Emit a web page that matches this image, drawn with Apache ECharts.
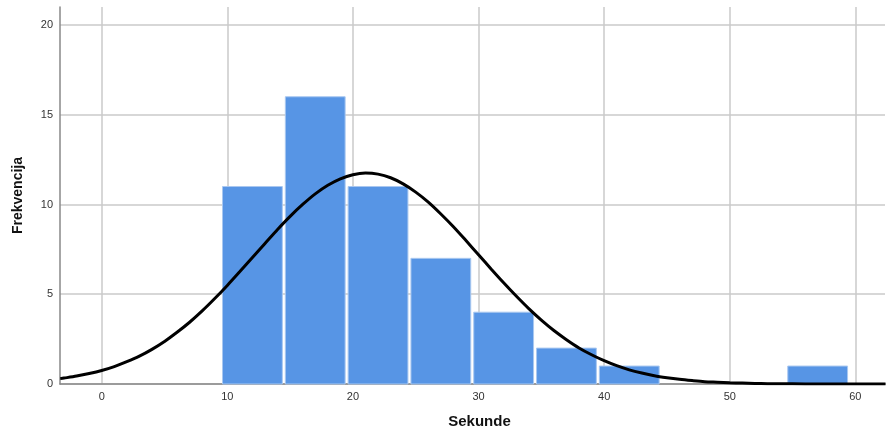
<!DOCTYPE html>
<html>
<head>
<meta charset="utf-8">
<script src="https://cdn.jsdelivr.net/npm/echarts@6/dist/echarts.min.js"></script>
<style>
html,body{margin:0;padding:0;background:#fff;}
#chart{width:886px;height:427px;}
</style>
</head>
<body>
<div id="chart"></div>
<script>
// Histogram bins (Sekunde) and frequencies
const binStart = [9.5, 14.5, 19.5, 24.5, 29.5, 34.5, 39.5, 54.5];
const binEnd   = [14.5, 19.5, 24.5, 29.5, 34.5, 39.5, 44.5, 59.5];
const counts   = [11, 16, 11, 7, 4, 2, 1, 1];

// Normal curve values
const curveX = [-3.3, -3, -2, -1, 0, 1, 2, 3, 4, 5, 6, 7, 8, 9, 10, 11, 12, 13, 14, 15, 16, 17, 18, 19, 20,
                21, 22, 23, 24, 25, 26, 27, 28, 29, 30, 31, 32, 33, 34, 35, 36, 37, 38, 39, 40,
                41, 42, 43, 44, 45, 46, 47, 48, 49, 50, 51, 52, 53, 54, 55, 57, 60, 62.4];
const curveY = [0.30, 0.33, 0.44, 0.58, 0.75, 0.97, 1.24, 1.55, 1.93, 2.37, 2.88, 3.44, 4.07, 4.76, 5.49, 6.26, 7.05, 7.83, 8.61, 9.34, 10.00, 10.59, 11.07, 11.43, 11.66,
                11.75, 11.69, 11.49, 11.15, 10.69, 10.13, 9.47, 8.76, 7.99, 7.20, 6.41, 5.64, 4.90, 4.20, 3.56, 2.98, 2.47, 2.01, 1.63, 1.30,
                1.02, 0.79, 0.61, 0.46, 0.35, 0.26, 0.19, 0.13, 0.10, 0.07, 0.05, 0.03, 0.02, 0.01, 0.01, 0.00, 0.00, 0.00];

// Tick labels
const xTicks = [0, 10, 20, 30, 40, 50, 60];
const yTicks = [0, 5, 10, 15, 20];

const barData = binStart.map((s, i) => [s, binEnd[i], counts[i]]);
const lineData = curveX.map((x, i) => [x, curveY[i]]);

const chart = echarts.init(document.getElementById('chart'));
const fontFamily = '"Liberation Sans", Arial, sans-serif';
chart.setOption({
  animation: false,
  backgroundColor: '#fff',
  grid: {left: 60, right: 1, top: 7, bottom: 43, outerBoundsMode: 'none', containLabel: false},
  xAxis: {
    type: 'value',
    min: -3.32, max: 62.36,
    name: 'Sekunde',
    nameLocation: 'middle',
    nameGap: 30,
    nameTextStyle: {fontFamily, fontSize: 15, fontWeight: 'bold', color: '#111', padding: [0, 0, 0, 14]},
    axisLine: {show: true, onZero: false, lineStyle: {color: '#888', width: 1.5}},
    axisTick: {show: false, customValues: xTicks},
    axisLabel: {customValues: xTicks, fontFamily, fontSize: 11, color: '#333', margin: 7},
    splitLine: {show: true, lineStyle: {color: '#cacaca', width: 1.5}}
  },
  yAxis: {
    type: 'value',
    min: 0, max: 21,
    name: 'Frekvencija',
    nameLocation: 'middle',
    nameGap: 35,
    nameTextStyle: {fontFamily, fontSize: 14, fontWeight: 'bold', color: '#111'},
    axisLine: {show: true, onZero: false, lineStyle: {color: '#888', width: 1.5}},
    axisTick: {show: false, customValues: yTicks},
    axisLabel: {customValues: yTicks, fontFamily, fontSize: 11, color: '#333', margin: 7},
    splitLine: {show: true, lineStyle: {color: '#cacaca', width: 1.5}}
  },
  series: [
    {
      type: 'custom',
      data: barData,
      encode: {x: [0, 1], y: 2},
      z: 2,
      renderItem: function (params, api) {
        const p0 = api.coord([api.value(0), 0]);
        const p1 = api.coord([api.value(1), api.value(2)]);
        return {
          type: 'rect',
          shape: {x: p0[0] + 1.5, y: p1[1], width: p1[0] - p0[0] - 3, height: p0[1] - p1[1]},
          style: {fill: '#5795e5', stroke: '#a9c8f0', lineWidth: 1}
        };
      }
    },
    {
      type: 'line',
      data: lineData,
      smooth: 0.3,
      showSymbol: false,
      symbol: 'none',
      z: 5,
      lineStyle: {color: '#000', width: 3}
    }
  ]
});
</script>
</body>
</html>
